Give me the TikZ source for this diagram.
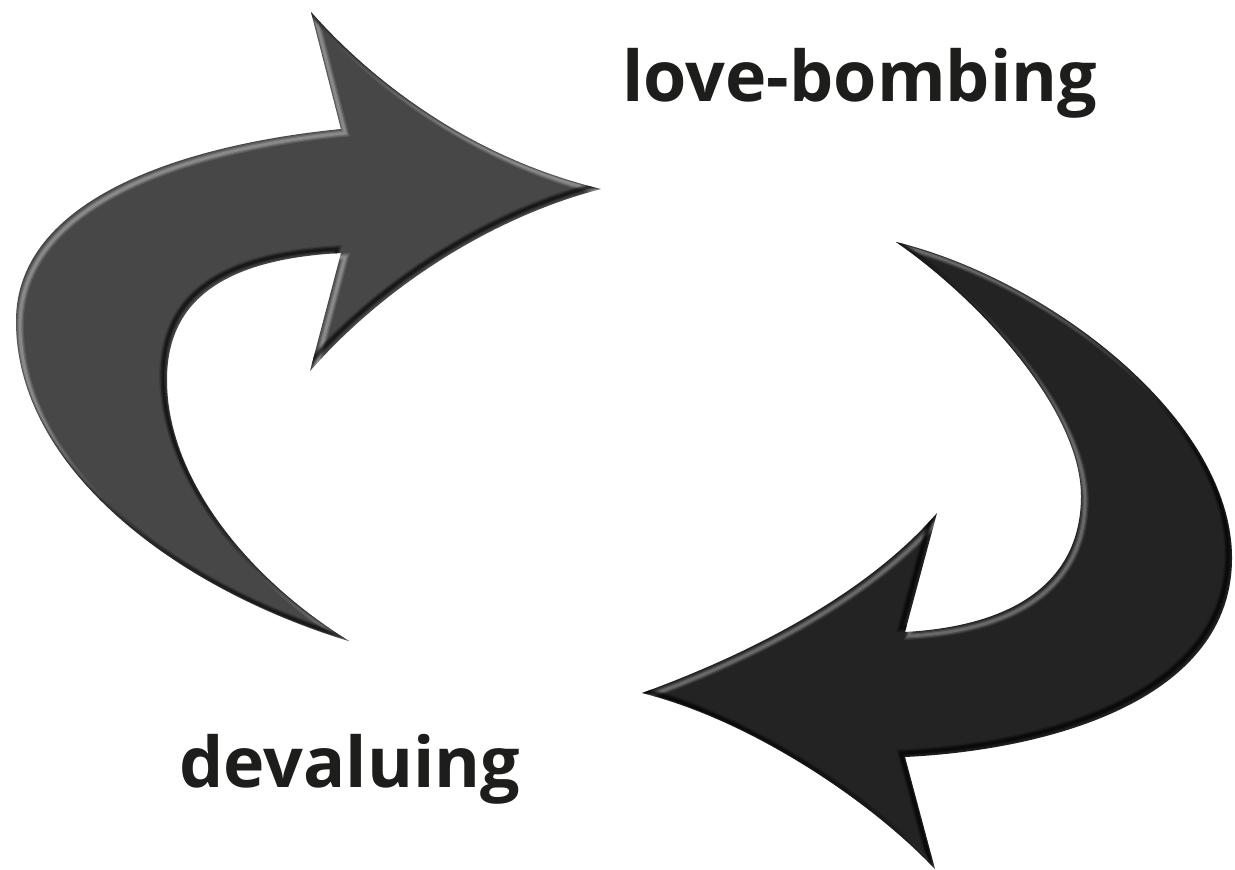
\documentclass[tikz,border=0pt]{standalone}
\usepackage{fontspec}
\setmainfont{Open Sans}
\definecolor{armL}{HTML}{474747}
\definecolor{armR}{HTML}{232323}
\definecolor{txt}{HTML}{1D1D1B}
\tikzset{
  shapeL/.style={insert path={(349,641) .. controls (180,590) and (16,470) .. (16,321)
      .. controls (16,200) and (180,145) .. (341,129) -- (311,12)
      .. controls (380,90) and (480,160) .. (601,189)
      .. controls (500,215) and (390,280) .. (310,371) -- (341,253)
      .. controls (210,260) and (167,310) .. (167,380)
      .. controls (167,480) and (250,580) .. (349,641) -- cycle}},
  shapeR/.style={insert path={(896,242) .. controls (1050,280) and (1232,420) .. (1232,558)
      .. controls (1232,700) and (1050,750) .. (905,757) -- (935,869)
      .. controls (870,800) and (750,720) .. (642,693)
      .. controls (760,650) and (870,590) .. (937,513) -- (905,632)
      .. controls (1030,625) and (1081,570) .. (1081,496)
      .. controls (1081,410) and (980,300) .. (896,242) -- cycle}},
  lbl/.style={font=\bfseries\fontsize{35}{40}\selectfont, text=txt, inner sep=0pt, anchor=base west},
  hil/.style={draw=white, shift={(4,4)}},
  shd/.style={draw=black, shift={(-4,-4)}}
}
\begin{document}
\begin{tikzpicture}[x=0.5pt,y=-0.5pt]
\useasboundingbox (0,0) rectangle (1235,869);
% left arrow
\fill[armL, shapeL];
\begin{scope}
  \clip[shapeL];
  \path[hil, opacity=.10, line width=3.8pt, shapeL];
  \path[hil, opacity=.14, line width=2.6pt, shapeL];
  \path[hil, opacity=.18, line width=1.4pt, shapeL];
  \path[shd, opacity=.18, line width=3.8pt, shapeL];
  \path[shd, opacity=.28, line width=2.6pt, shapeL];
  \path[shd, opacity=.40, line width=1.4pt, shapeL];
\end{scope}
% right arrow
\fill[armR, shapeR];
\begin{scope}
  \clip[shapeR];
  \path[hil, opacity=.08, line width=3.8pt, shapeR];
  \path[hil, opacity=.12, line width=2.6pt, shapeR];
  \path[hil, opacity=.16, line width=1.4pt, shapeR];
  \path[shd, opacity=.20, line width=3.8pt, shapeR];
  \path[shd, opacity=.30, line width=2.6pt, shapeR];
  \path[shd, opacity=.45, line width=1.4pt, shapeR];
\end{scope}
% labels
\node[lbl] (love) at (622,101) {love-bombing};
\node[lbl] (deval) at (179,787) {devaluing};
\end{tikzpicture}
\end{document}
